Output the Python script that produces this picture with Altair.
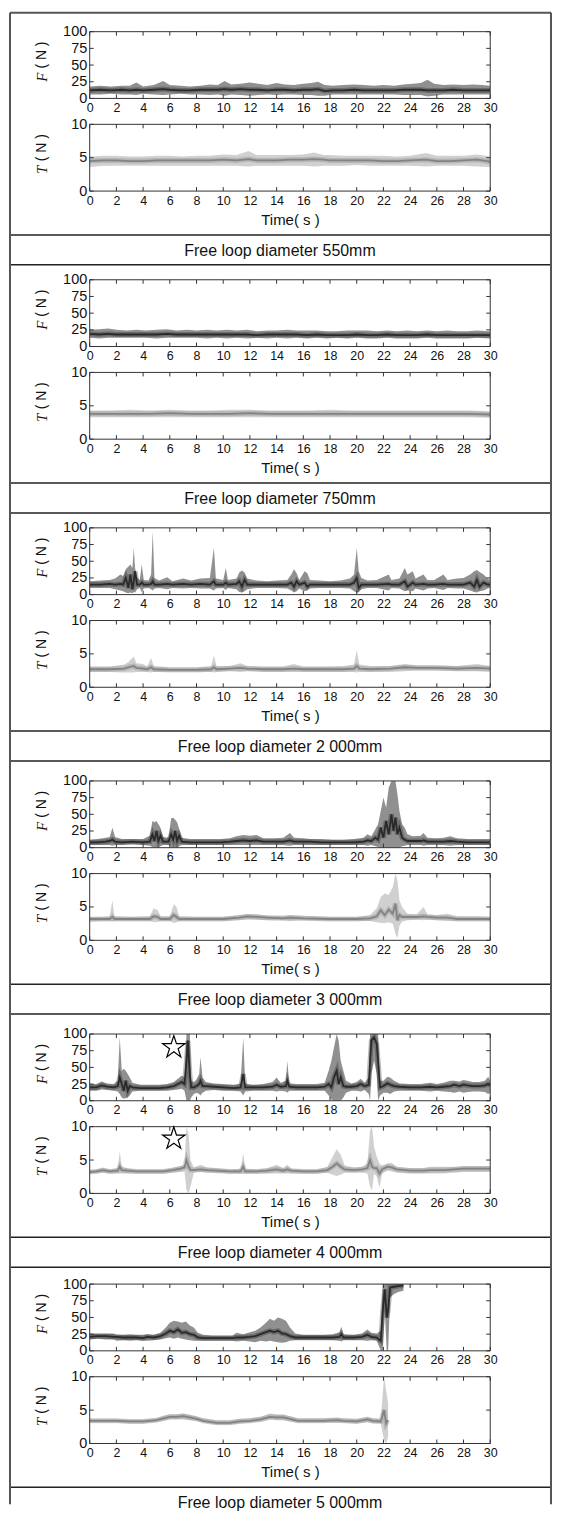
import altair as alt
import pandas as pd

# ---------------- data ----------------
CAPTIONS = [
    "Free loop diameter 550mm",
    "Free loop diameter 750mm",
    "Free loop diameter 2 000mm",
    "Free loop diameter 3 000mm",
    "Free loop diameter 4 000mm",
    "Free loop diameter 5 000mm",
]
X_TICKS = [0, 2, 4, 6, 8, 10, 12, 14, 16, 18, 20, 22, 24, 26, 28, 30]
F_TICKS = [0, 25, 50, 75, 100]
T_TICKS = [0, 5, 10]
STAR_F = [(6.3, 80)]     # star marker, F panel of the 4 000mm case
STAR_T = [(6.3, 8.2)]    # star marker, T panel of the 4 000mm case

# each signal: (time s, lower edge, centre, upper edge)
F550 = [(0,6,12,18),(0.8,6,13,19),(1.6,7,12,18),(2.4,6,13,19),(3.0,6,12,19),(3.5,5,13,24),(4.0,7,12,18),
        (4.8,6,13,20),(5.5,5,14,26),(6.0,6,13,20),(6.8,7,12,19),(7.5,6,12,18),(8.3,6,13,19),(9.0,5,13,21),
        (9.6,6,13,20),(10.1,4,14,26),(10.6,6,13,21),(11.3,5,14,22),(12.0,4,13,24),(12.6,5,13,22),(13.3,6,12,20),
        (14.0,5,13,23),(14.6,6,13,21),(15.3,6,12,20),(16.0,5,13,22),(16.6,5,13,23),(17.1,4,14,25),(17.6,4,11,20),
        (18.2,6,12,19),(19.0,6,12,20),(19.8,6,13,21),(20.5,6,12,20),(21.3,6,12,19),(22.0,6,12,20),(22.8,6,12,19),
        (23.5,5,13,21),(24.2,5,13,22),(24.8,5,13,23),(25.3,3,12,28),(25.8,4,12,22),(26.5,6,12,20),(27.2,6,13,21),
        (28.0,6,12,20),(28.7,6,12,21),(29.4,6,12,20),(30,6,12,19)]
T550 = [(0,3.6,4.5,5.2),(1,3.8,4.6,5.3),(2,3.8,4.6,5.3),(3,3.8,4.5,5.2),(4,3.8,4.5,5.2),(5,3.8,4.6,5.3),
        (6,3.8,4.6,5.3),(7,3.8,4.6,5.2),(8,3.8,4.6,5.3),(9,3.8,4.6,5.3),(10,3.8,4.7,5.5),(11,3.8,4.6,5.4),
        (11.9,3.7,4.8,6.0),(12.5,3.8,4.6,5.4),(13,3.8,4.6,5.4),(14,3.8,4.6,5.4),(15,3.8,4.7,5.4),(16,3.8,4.7,5.5),
        (16.8,3.7,4.8,5.8),(17.5,3.8,4.7,5.4),(18,3.8,4.6,5.4),(19,3.8,4.6,5.3),(20,3.9,4.6,5.3),(21,3.8,4.6,5.3),
        (22,3.8,4.5,5.3),(23,3.8,4.5,5.2),(24,3.8,4.6,5.3),(25.2,3.7,4.7,5.7),(26,3.8,4.5,5.3),(27,3.8,4.5,5.3),
        (28,3.8,4.6,5.3),(29,3.7,4.7,5.5),(30,3.6,4.4,5.2)]

F750 = [(0,13,19,25),(0.7,12,18,26),(1.4,13,19,27),(2,13,18,25),(2.8,13,18,24),(3.5,13,18,25),(4.2,13,18,24),
        (5,12,18,25),(5.8,13,19,26),(6.5,13,18,24),(7.3,13,18,25),(8,13,18,24),(8.8,12,18,25),(9.5,13,18,24),
        (10.3,12,18,25),(11,13,18,24),(11.8,12,18,25),(12.5,13,17,23),(13.3,12,18,24),(14,13,18,24),(14.8,12,18,25),
        (15.5,13,18,24),(16.3,12,17,24),(17,13,18,24),(17.8,12,17,23),(18.5,13,17,23),(19.3,12,17,24),(20,13,18,24),
        (20.8,12,17,24),(21.5,12,17,23),(22.3,13,18,24),(23,12,17,23),(23.8,12,17,24),(24.5,12,17,23),(25.3,13,18,24),
        (26,12,17,23),(26.8,12,17,24),(27.5,12,17,23),(28.3,12,17,23),(29,13,17,24),(30,12,17,23)]
T750 = [(0,3.3,3.8,4.3),(1.5,3.3,3.8,4.3),(3,3.3,3.8,4.4),(4.5,3.3,3.8,4.3),(6,3.3,3.9,4.4),(7.5,3.3,3.8,4.3),
        (9,3.3,3.8,4.3),(10.5,3.3,3.8,4.4),(12,3.3,3.9,4.4),(13.5,3.3,3.8,4.3),(15,3.3,3.8,4.3),(16.5,3.3,3.8,4.3),
        (18,3.3,3.8,4.4),(19.5,3.3,3.8,4.3),(21,3.3,3.8,4.3),(22.5,3.3,3.8,4.3),(24,3.3,3.8,4.3),(25.5,3.3,3.8,4.3),
        (27,3.3,3.8,4.3),(28.5,3.3,3.8,4.3),(30,3.2,3.7,4.2)]

F2000 = [(0,10,15,20),(0.8,10,15,21),(1.5,10,16,22),(1.9,8,15,24),(2.3,6,16,30),(2.5,5,15,28),
         (2.7,3,25,38),(2.9,2,10,42),(3.05,3,30,45),(3.2,2,8,40),(3.3,4,20,70),(3.4,3,35,40),(3.55,8,15,26),
         (3.75,10,15,22),(3.9,4,18,45),(4.05,9,15,22),(4.4,10,15,21),(4.6,8,16,30),(4.72,6,20,95),(4.85,9,15,25),
         (5.2,10,15,21),(5.8,8,16,26),(6.2,10,15,20),(7.0,9,16,24),(7.6,10,15,21),(8.3,9,16,24),(9.0,9,15,25),
         (9.3,6,20,70),(9.45,9,15,24),(10.0,10,15,22),(10.2,7,18,40),(10.35,10,15,22),(11.0,8,16,24),(11.2,4,20,33),
         (11.4,3,12,36),(11.6,5,22,33),(11.8,8,15,24),(12.5,10,15,21),(13.3,10,15,20),(14.0,10,15,21),(14.8,9,15,22),
         (15.1,6,18,30),(15.3,3,12,38),(15.5,5,20,32),(15.7,9,15,22),(16.1,5,18,35),(16.3,6,12,32),(16.5,9,15,22),
         (17.2,10,15,21),(18.0,10,15,20),(18.8,10,15,21),(19.5,9,15,24),(19.8,5,18,30),(20.0,3,25,70),(20.15,4,10,35),
         (20.35,8,15,25),(20.8,10,15,21),(21.5,10,15,22),(22.4,6,16,30),(22.6,10,15,22),(23.2,9,15,24),(23.6,5,20,40),
         (23.8,6,12,30),(24.2,5,18,35),(24.4,9,15,24),(25.0,6,16,30),(25.3,9,15,22),(25.8,10,15,22),(26.5,7,16,30),
         (26.8,10,15,22),(27.5,9,15,24),(28.0,9,15,25),(28.5,6,18,30),(28.8,4,12,35),(29.0,3,22,37),(29.2,5,12,34),
         (29.5,6,18,30),(29.8,9,15,24),(30,10,15,22)]
T2000 = [(0,2.3,2.7,3.1),(1.5,2.3,2.7,3.1),(2.6,2.2,2.8,3.4),(2.9,2.2,3.0,3.8),(3.3,2.2,3.2,4.6),(3.5,2.3,2.9,3.6),
         (4.0,2.3,2.8,3.5),(4.3,2.3,2.7,3.1),(4.6,2.2,3.0,4.4),(4.8,2.3,2.7,3.2),(6,2.3,2.6,3.0),(8,2.3,2.6,3.0),
         (9.1,2.3,2.7,3.2),(9.3,2.2,3.0,4.8),(9.5,2.3,2.7,3.2),(10.5,2.4,2.8,3.2),(11.3,2.3,2.9,3.6),(11.8,2.4,2.8,3.2),
         (13,2.3,2.7,3.1),(14.5,2.3,2.7,3.1),(15.3,2.3,2.8,3.5),(16,2.3,2.7,3.1),(17.5,2.3,2.7,3.1),(19,2.3,2.7,3.2),
         (19.8,2.3,2.8,3.4),(20.0,2.2,3.2,5.6),(20.2,2.3,2.8,3.4),(21,2.3,2.7,3.2),(22.5,2.3,2.8,3.2),(23.6,2.4,3.0,3.5),
         (24.5,2.5,2.9,3.3),(26,2.5,2.9,3.3),(27.5,2.4,2.8,3.2),(29.0,2.4,2.9,3.5),(30,2.3,2.8,3.2)]

F3000 = [(0,4,8,12),(0.6,4,8,13),(1.2,4,9,15),(1.5,4,10,16),(1.7,3,12,30),(1.9,4,9,16),(2.4,4,8,13),(3.2,5,9,13),
         (4.0,4,8,13),(4.5,3,9,18),(4.7,1,20,40),(4.85,0,10,38),(5.0,1,25,40),(5.15,0,10,35),(5.3,2,18,30),(5.5,4,9,16),
         (5.9,4,9,15),(6.1,1,20,44),(6.25,0,12,45),(6.4,1,25,42),(6.55,0,10,38),(6.7,2,18,28),(6.9,4,9,15),(7.5,4,8,13),
         (8.3,4,8,13),(9.0,4,8,13),(9.8,4,8,13),(10.5,4,9,14),(11.0,4,10,17),(11.5,4,11,19),(12.0,4,10,18),(12.5,4,11,19),
         (13.0,4,9,14),(13.8,4,9,14),(14.5,4,9,15),(15.0,3,11,22),(15.3,4,9,15),(16.0,4,9,14),(16.5,4,9,13),(17.3,4,8,13),
         (18.2,4,8,12),(19.0,4,8,12),(19.8,4,8,13),(20.5,4,9,15),(20.8,3,11,20),(21.1,4,10,17),(21.4,2,15,28),(21.6,1,12,35),
         (21.8,0,30,55),(22.0,0,15,75),(22.2,0,40,60),(22.4,0,20,90),(22.6,0,50,100),(22.75,0,25,100),(22.9,0,45,100),
         (23.05,0,20,80),(23.2,0,30,55),(23.4,2,15,35),(23.6,3,12,30),(23.8,4,10,20),(24.2,4,10,17),(24.8,4,10,18),
         (25.0,3,11,22),(25.3,4,9,15),(26.0,4,9,14),(26.5,4,9,15),(27.0,3,10,17),(27.5,4,9,14),(28.3,4,8,13),(29.0,4,8,13),
         (30,4,8,13)]
T3000 = [(0,2.8,3.2,3.5),(1.0,2.9,3.2,3.5),(1.5,2.9,3.2,3.6),(1.7,2.8,3.5,6.0),(1.85,2.9,3.2,3.6),(3,2.9,3.2,3.5),
         (4.5,2.9,3.2,3.6),(4.8,2.7,3.6,4.8),(5.1,2.8,3.5,4.5),(5.3,2.9,3.2,3.6),(6.0,2.9,3.2,3.6),(6.3,2.6,3.8,5.4),
         (6.5,2.7,3.5,5.0),(6.7,2.9,3.2,3.6),(8,2.9,3.2,3.5),(10,2.9,3.2,3.5),(11.2,3.0,3.4,3.8),(11.8,3.1,3.6,3.9),
         (12.5,3.1,3.5,3.9),(13.3,3.0,3.4,3.7),(14.5,3.0,3.3,3.7),(15.0,2.9,3.4,3.8),(16,3.0,3.3,3.7),(18,2.9,3.2,3.5),
         (20,2.9,3.2,3.5),(21.0,2.9,3.3,3.8),(21.5,2.7,3.6,4.8),(21.8,2.6,4.5,6.5),(22.1,2.6,3.8,7.0),(22.4,2.7,4.6,6.8),
         (22.7,2.5,4.0,8.0),(22.9,1.0,5.5,10.0),(23.05,0.3,3.0,9.0),(23.2,2.2,3.8,6.0),(23.4,2.8,3.5,5.0),(23.8,3.0,3.5,4.0),
         (24.5,3.1,3.5,3.9),(25.0,3.0,3.6,5.0),(25.3,3.1,3.5,3.9),(26,3.0,3.4,3.8),(26.8,2.9,3.4,4.0),(27.5,2.9,3.2,3.6),
         (29,2.9,3.2,3.6),(30,2.9,3.2,3.5)]

F4000 = [(0,15,20,25),(0.5,15,20,25),(0.9,17,23,29),(1.3,16,21,26),(1.8,15,20,25),(2.1,14,22,30),(2.25,10,35,95),
         (2.4,5,25,45),(2.55,3,15,48),(2.7,4,30,45),(2.85,5,15,40),(3.0,8,22,35),(3.2,14,20,27),(3.8,15,19,24),
         (4.5,15,19,24),(5.2,15,19,24),(5.8,15,20,25),(6.3,16,22,28),(6.6,17,25,33),(6.9,18,28,38),(7.1,15,25,35),
         (7.25,0,60,100),(7.35,0,90,100),(7.5,0,40,100),(7.6,5,20,30),(7.8,10,20,28),(8.0,12,22,32),(8.2,10,25,40),
         (8.3,8,30,65),(8.45,12,22,35),(8.7,15,22,28),(9.3,16,21,26),(10.0,15,20,25),(10.8,15,19,24),(11.3,14,20,26),
         (11.5,8,40,95),(11.65,14,20,26),(12.2,15,20,24),(13.0,15,20,25),(13.7,15,21,28),(14.0,14,24,35),(14.3,15,21,27),
         (14.7,14,22,30),(14.8,12,30,60),(14.95,15,21,26),(15.5,15,20,25),(16.3,15,20,25),(17.0,15,20,25),(17.6,15,21,27),
         (17.9,8,25,45),(18.1,2,20,60),(18.3,0,35,80),(18.5,0,45,100),(18.65,0,25,90),(18.8,0,35,60),(19.0,5,22,45),
         (19.2,12,21,30),(19.6,15,21,26),(20.0,15,22,28),(20.3,14,25,33),(20.6,16,22,27),(20.9,10,24,35),(21.0,0,60,100),
         (21.1,40,90,100),(21.3,60,95,100),(21.5,40,85,100),(21.6,0,60,100),(21.75,8,20,30),(22.0,12,22,30),(22.3,12,26,36),
         (22.5,10,24,35),(22.8,14,22,30),(23.2,15,21,26),(24.0,15,20,25),(24.8,15,20,25),(25.5,14,21,27),(26.0,15,20,25),
         (26.5,14,21,27),(27.0,13,22,30),(27.3,12,24,30),(27.7,14,22,29),(28.0,12,24,31),(28.3,13,23,30),(28.7,14,22,28),
         (29.2,14,22,28),(29.6,13,23,30),(29.85,10,25,36),(30,12,23,30)]
T4000 = [(0,3.0,3.2,3.5),(0.5,3.0,3.3,3.6),(1.0,3.1,3.5,3.8),(1.5,3.0,3.3,3.6),(2.1,3.0,3.4,3.8),(2.25,3.0,4.0,6.3),
         (2.4,3.0,3.5,4.0),(2.8,3.0,3.4,3.8),(3.5,3.0,3.3,3.6),(4.5,3.0,3.3,3.6),(5.5,3.0,3.3,3.6),(6.2,3.1,3.5,3.8),
         (6.8,3.2,3.7,4.1),(7.1,3.3,3.9,4.3),(7.25,0.5,5.0,10.0),(7.4,0.0,4.0,9.0),(7.55,1.0,3.5,5.0),(7.8,3.1,3.5,3.9),
         (8.3,3.2,3.6,4.3),(8.8,3.1,3.5,3.9),(9.5,3.1,3.4,3.8),(10.5,3.0,3.3,3.6),(11.3,3.0,3.3,3.7),(11.5,3.0,4.0,6.0),
         (11.65,3.0,3.3,3.7),(12.5,3.0,3.3,3.6),(13.3,3.0,3.4,3.8),(14.0,3.0,3.6,4.3),(14.5,3.0,3.4,3.8),(14.8,3.0,3.6,4.3),
         (15.1,3.0,3.4,3.7),(16,3.0,3.3,3.6),(17,3.0,3.3,3.6),(17.8,3.1,3.5,4.0),(18.2,2.8,4.0,5.5),(18.5,2.6,4.5,6.6),
         (18.8,2.8,4.0,5.8),(19.1,3.1,3.6,4.2),(19.8,3.1,3.5,3.9),(20.4,3.1,3.6,4.0),(20.8,3.0,3.8,4.5),(21.0,1.0,5.0,9.5),
         (21.15,0.5,4.0,10.0),(21.3,3.0,3.8,7.0),(21.5,2.5,3.8,5.5),(21.7,0.8,3.0,4.5),(21.9,3.0,3.6,4.2),(22.3,3.4,4.0,4.5),
         (22.6,3.3,3.9,4.6),(23.0,3.1,3.6,4.0),(24.0,3.0,3.4,3.8),(25.0,3.0,3.4,3.8),(25.5,3.0,3.5,4.0),(26.5,3.0,3.5,4.0),
         (27.3,3.1,3.6,4.0),(28.0,3.2,3.7,4.1),(29.0,3.2,3.7,4.1),(30,3.2,3.7,4.1)]

F5000 = [(0,17,21,26),(0.6,18,22,26),(1.2,17,22,26),(1.8,17,21,26),(2.0,15,21,24),(2.5,16,20,24),(3.0,15,20,25),
         (3.5,16,20,24),(4.0,15,19,24),(4.3,15,21,25),(4.8,16,20,24),(5.3,17,22,27),(5.7,19,26,35),(6.0,20,30,42),
         (6.3,18,28,45),(6.6,20,32,44),(6.9,18,27,42),(7.2,17,28,44),(7.5,16,25,38),(7.8,15,24,35),(8.1,15,20,27),
         (8.5,15,19,24),(9.2,15,19,23),(10.0,15,19,23),(10.7,15,19,23),(11.0,14,20,27),(11.5,15,20,25),(12.0,14,21,28),
         (12.4,13,22,30),(12.8,15,25,35),(13.2,14,28,42),(13.5,15,30,48),(13.8,14,28,45),(14.1,13,30,50),(14.4,12,26,48),
         (14.7,13,25,45),(15.0,15,22,35),(15.4,16,20,26),(16.0,16,20,24),(16.8,16,20,24),(17.5,16,20,24),(18.2,16,20,25),
         (18.7,15,21,28),(18.85,14,25,36),(19.0,16,20,25),(19.8,16,20,24),(20.4,16,21,26),(20.8,15,24,32),(21.1,16,21,27),
         (21.5,15,20,26),(21.8,0,15,30),(21.95,0,60,100),(22.1,60,92,100),(22.25,0,50,100),(22.35,0,60,100),
         (22.5,80,95,100),(22.8,85,96,100),(23.1,88,97,100),(23.5,90,98,100)]
T5000 = [(0,3.1,3.4,3.7),(1,3.1,3.4,3.7),(2,3.1,3.4,3.7),(3,3.0,3.3,3.6),(4,3.0,3.3,3.6),(4.5,3.1,3.4,3.7),(5,3.2,3.5,3.8),
         (5.6,3.4,3.8,4.2),(6.0,3.6,4.0,4.4),(6.5,3.6,4.0,4.4),(7.0,3.6,4.1,4.5),(7.5,3.5,3.9,4.3),(8.0,3.4,3.7,4.1),
         (8.5,3.1,3.4,3.8),(9.5,2.8,3.1,3.5),(10.5,2.8,3.1,3.5),(11.2,3.0,3.3,3.7),(12,3.1,3.4,3.8),(12.8,3.3,3.6,4.0),
         (13.5,3.6,4.0,4.5),(14.0,3.5,3.9,4.4),(14.5,3.5,3.9,4.4),(15.0,3.3,3.7,4.1),(15.6,3.1,3.4,3.8),(16.5,3.1,3.4,3.8),
         (17.5,3.1,3.4,3.8),(18.5,3.1,3.5,3.9),(19,3.1,3.4,3.8),(20,3.0,3.3,3.7),(20.8,3.2,3.6,4.0),(21.2,3.0,3.4,3.8),
         (21.8,3.0,3.3,3.7),(22.05,0.5,5.0,10.0),(22.2,0.0,3.0,8.0),(22.35,1.0,3.5,6.0)]

F_SERIES = [F550, F750, F2000, F3000, F4000, F5000]
T_SERIES = [T550, T750, T2000, T3000, T4000, T5000]

# ---------------- layout / style ----------------
W = 402          # plot width
HF = 67          # F plot height
HT = 67          # T plot height
CAP_H = 30       # caption box height
LAST_CAP_H = 17  # last caption box is cut by the page edge
GAP_FT = 26
GAP_TC = 44
GAP_CF = [15, 15, 20, 20, 17]   # caption box bottom -> next F plot top
BLOCK_UP = 225   # longest distance from caption top up to the block's top line
TOP_UP = 223     # first block: caption top -> top border
LB = -80         # left border, relative to plot left
RB = 463         # right border
CAP_X = 191

SANS = "Liberation Sans"
NARROW = "Liberation Sans Narrow, Liberation Sans"
SERIF = "Liberation Serif"
FRAME = "#333333"
STAR_PATH = ("M0,-1L0.2245,-0.309L0.951,-0.309L0.363,0.118L0.588,0.809L0,0.382"
             "L-0.588,0.809L-0.363,0.118L-0.951,-0.309L-0.2245,-0.309Z")

ONE = pd.DataFrame({"k": [0]})


def signal_chart(rows, kind, stars=None):
    H = HF if kind == "F" else HT
    ymax = 100 if kind == "F" else 10
    yticks = F_TICKS if kind == "F" else T_TICKS
    df = pd.DataFrame(rows, columns=["t", "lo", "mid", "hi"])
    xs = alt.Scale(domain=[0, 30], nice=False, zero=False)
    ys = alt.Scale(domain=[0, ymax], nice=False)
    common_x = dict(values=X_TICKS, ticks=False, domain=False, grid=False, labelFont=NARROW,
                    labelFontSize=12.5, labelPadding=3, labelOverlap=False, labelFlush=False,
                    labelColor="#111111")
    if kind == "T":
        xaxis = alt.Axis(title="Time( s )", titleFont=SANS, titleFontSize=15, titleFontWeight="normal",
                         titlePadding=6, titleColor="#111111", **common_x)
    else:
        xaxis = alt.Axis(title=None, **common_x)
    yaxis = alt.Axis(values=yticks, ticks=False, domain=False, grid=False, labelFont=SANS,
                     labelFontSize=14.5, labelPadding=3, labelColor="#111111", title=None)

    if kind == "F":
        band_col, band_op, line_col, line_op = "#2b2b2b", 0.52, "#1a1a1a", 0.8
    else:
        band_col, band_op, line_col, line_op = "#8a8a8a", 0.4, "#7a7a7a", 0.85

    band = alt.Chart(df).mark_area(color=band_col, opacity=band_op, clip=True).encode(
        x=alt.X("t:Q", scale=xs, axis=xaxis),
        y=alt.Y("lo:Q", scale=ys, axis=yaxis),
        y2="hi:Q",
    )
    glow = alt.Chart(df).mark_line(color=line_col, strokeWidth=5, opacity=0.3, clip=True).encode(
        x=alt.X("t:Q", scale=xs, axis=xaxis),
        y=alt.Y("mid:Q", scale=ys, axis=yaxis),
    )
    line = alt.Chart(df).mark_line(color=line_col, strokeWidth=1.8, opacity=line_op, clip=True).encode(
        x=alt.X("t:Q", scale=xs, axis=xaxis),
        y=alt.Y("mid:Q", scale=ys, axis=yaxis),
    )
    frame = alt.Chart(ONE).mark_rect(filled=False, stroke=FRAME, strokeWidth=1).encode(
        x=alt.value(0), x2=alt.value(W), y=alt.value(0), y2=alt.value(H))
    xt = pd.DataFrame({"t": X_TICKS})
    yt = pd.DataFrame({"v": yticks})
    xtick_b = alt.Chart(xt).mark_rule(color=FRAME, strokeWidth=1).encode(
        x=alt.X("t:Q", scale=xs, axis=xaxis), y=alt.value(H), y2=alt.value(H - 4))
    xtick_t = alt.Chart(xt).mark_rule(color=FRAME, strokeWidth=1).encode(
        x=alt.X("t:Q", scale=xs, axis=xaxis), y=alt.value(0), y2=alt.value(4))
    ytick_l = alt.Chart(yt).mark_rule(color=FRAME, strokeWidth=1).encode(
        y=alt.Y("v:Q", scale=ys, axis=yaxis), x=alt.value(0), x2=alt.value(4))
    ytick_r = alt.Chart(yt).mark_rule(color=FRAME, strokeWidth=1).encode(
        y=alt.Y("v:Q", scale=ys, axis=yaxis), x=alt.value(W), x2=alt.value(W - 4))
    letter = alt.Chart(ONE).mark_text(text=kind, font=SERIF, fontStyle="italic", fontSize=15,
                                      angle=270, color="#111111").encode(
        x=alt.value(-48), y=alt.value(H * 0.68))
    unit = alt.Chart(ONE).mark_text(text="( N )", font=SANS, fontSize=14, angle=270,
                                    color="#111111").encode(
        x=alt.value(-48), y=alt.value(H * 0.35))
    layers = [band, glow, line, frame, xtick_b, xtick_t, ytick_l, ytick_r, letter, unit]
    if stars:
        sdf = pd.DataFrame(stars, columns=["t", "v"])
        layers.append(alt.Chart(sdf).mark_point(shape=STAR_PATH, filled=False, color="black",
                                                size=560, strokeWidth=1.2, opacity=1).encode(
            x=alt.X("t:Q", scale=xs, axis=xaxis), y=alt.Y("v:Q", scale=ys, axis=yaxis)))
    return alt.layer(*layers).properties(width=W, height=H)


def spacer(h):
    return alt.Chart(ONE).mark_point(opacity=0).encode(
        x=alt.value(0), y=alt.value(0)).properties(width=W, height=h)


def caption_chart(text, first, last):
    h = LAST_CAP_H if last else CAP_H
    up = TOP_UP if first else BLOCK_UP
    cdf = pd.DataFrame({"caption": [text]})
    txt = alt.Chart(cdf).mark_text(font=SANS, fontSize=16, align="center", baseline="middle",
                                   color="#111111").encode(
        text="caption:N", x=alt.value(CAP_X), y=alt.value(CAP_H / 2 + 1))
    top = alt.Chart(cdf).mark_rule(color="#222222", strokeWidth=1.5).encode(
        x=alt.value(LB), x2=alt.value(RB), y=alt.value(0))
    left = alt.Chart(cdf).mark_rule(color="#555555", strokeWidth=2).encode(
        x=alt.value(LB), y=alt.value(-up), y2=alt.value(h))
    right = alt.Chart(cdf).mark_rule(color="#555555", strokeWidth=2).encode(
        x=alt.value(RB), y=alt.value(-up), y2=alt.value(h))
    layers = [txt, top, left, right]
    if not last:
        layers.append(alt.Chart(cdf).mark_rule(color="#222222", strokeWidth=1.5).encode(
            x=alt.value(LB), x2=alt.value(RB), y=alt.value(CAP_H)))
    if first:
        layers.append(alt.Chart(cdf).mark_rule(color="#555555", strokeWidth=2).encode(
            x=alt.value(LB), x2=alt.value(RB), y=alt.value(-up)))
    return alt.layer(*layers).properties(width=W, height=h)


charts = []
for i in range(6):
    charts.append(signal_chart(F_SERIES[i], "F", STAR_F if i == 4 else None))
    charts.append(spacer(GAP_FT))
    charts.append(signal_chart(T_SERIES[i], "T", STAR_T if i == 4 else None))
    charts.append(spacer(GAP_TC))
    charts.append(caption_chart(CAPTIONS[i], i == 0, i == 5))
    if i < 5:
        charts.append(spacer(GAP_CF[i]))

chart = (
    alt.vconcat(*charts, spacing=0, bounds="flush")
    .properties(padding=0)
    .configure(font=SANS, background="white")
    .configure_view(stroke="transparent")
)

chart.save("out.html", embed_options={"renderer": "svg", "actions": False})
